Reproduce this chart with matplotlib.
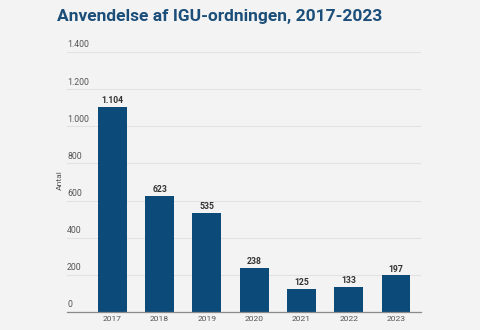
import matplotlib
matplotlib.use("Agg")
import matplotlib.pyplot as plt

years = ["2017", "2018", "2019", "2020", "2021", "2022", "2023"]
counts = [1104, 623, 535, 238, 125, 133, 197]
yticks = [0, 200, 400, 600, 800, 1000, 1200, 1400]

def dk(v):
    return f"{v:,.0f}".replace(",", ".")

plt.rcParams["font.family"] = ["Roboto", "DejaVu Sans"]

W, H = 480, 330
fig = plt.figure(figsize=(W / 100, H / 100), dpi=100)
fig.patch.set_facecolor("#f3f3f3")

left, right, bottom, top = 67, 421, 312, 52
ax = fig.add_axes([left / W, 1 - bottom / H, (right - left) / W, (bottom - top) / H])
ax.set_facecolor("#f3f3f3")

x = range(len(years))
ax.bar(x, counts, width=0.61, color="#0c4a7a", zorder=3)
for xi, v in zip(x, counts):
    ax.text(xi, v + 10, dk(v), ha="center", va="bottom", fontsize=6.2,
            fontweight="bold", color="#333333", zorder=4)

ax.set_xlim(-0.96, 6.53)
ax.set_ylim(0, 1400)
ax.set_xticks(list(x))
ax.set_xticklabels(years, fontsize=6.1, color="#555555")
ax.tick_params(axis="x", length=0, pad=3)

ax.set_yticks(yticks)
ax.set_yticklabels([])
ax.tick_params(axis="y", length=0)
ax.grid(axis="y", color="#e2e2e2", linewidth=0.8, zorder=0)
for t in yticks:
    ax.text(0.0, t + 14, dk(t), transform=ax.get_yaxis_transform(),
            ha="left", va="bottom", fontsize=6.3, color="#555555")

for s in ["top", "right", "left"]:
    ax.spines[s].set_visible(False)
ax.spines["bottom"].set_color("#8a8a8a")
ax.spines["bottom"].set_linewidth(0.9)
ax.spines["bottom"].set_zorder(5)

fig.text(60 / W, 1 - 180 / H, "Antal", rotation=90, ha="center", va="center",
         fontsize=6.1, color="#555555")

fig.text(57 / W, 1 - 17 / H, "Anvendelse af IGU-ordningen, 2017-2023",
         ha="left", va="center", fontsize=12.5, fontweight="bold", color="#1b4e78")

fig.savefig("out.png", dpi=100, facecolor=fig.get_facecolor())
